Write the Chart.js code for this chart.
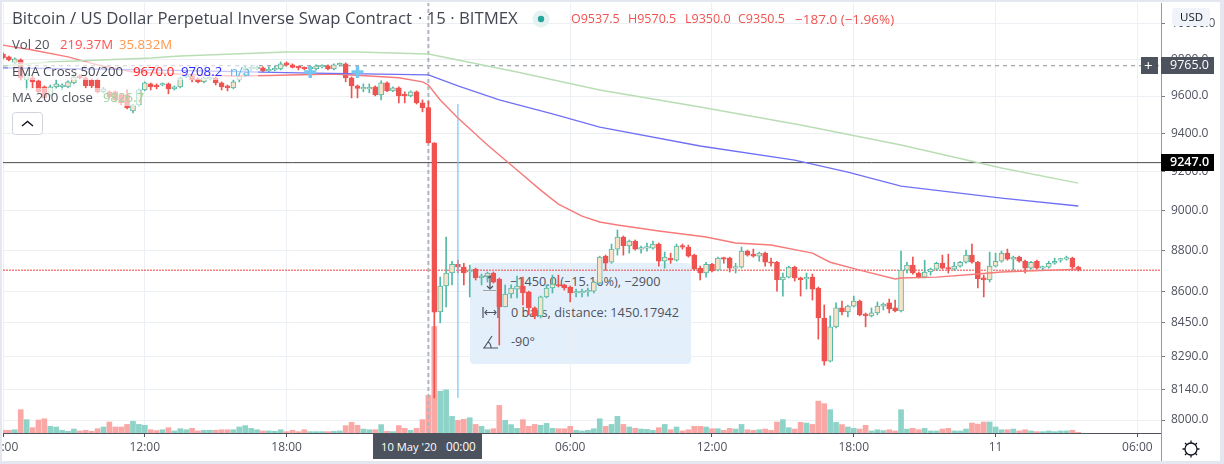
<!DOCTYPE html>
<html><head><meta charset="utf-8">
<script src="https://cdn.jsdelivr.net/npm/chart.js@4/dist/chart.umd.min.js"></script>
<style>
html,body{margin:0;padding:0;background:#fff;width:1224px;height:464px;overflow:hidden}
#wrap{position:relative;width:1224px;height:464px;background:#fff;font-family:"Open Sans",sans-serif;color:#50535e;overflow:hidden;filter:blur(0.35px)}
canvas{position:absolute;left:0;top:0;z-index:1}
.t{position:absolute;white-space:pre;line-height:1}
.low{z-index:0}.top{z-index:3}
.box{position:absolute}
</style></head><body>
<div id="wrap">
<div class="box low" style="left:470px;top:263px;width:221px;height:101px;background:#e3f0fc;border-radius:4px"></div>
<div class="t low" style="left:510px;top:275px;font-size:12.7px;color:#50535e">−1450.0 (−15.16%), −2900</div>
<div class="t low" style="left:511px;top:306px;font-size:12.7px;color:#50535e">0 bars, distance: 1450.17942</div>
<div class="t low" style="left:511px;top:335px;font-size:12.7px;color:#50535e">-90°</div>
<svg class="box low" style="left:480px;top:272px" width="22" height="80" fill="none" stroke="#50535e" stroke-width="1.2">
<path d="M3 19h13M10 4v13M7 7l3-3 3 3M7 14l3 3 3-3M4 4h12"/>
<path d="M3 35v11M18 35v11M5 40.5h11M7 38l-2 2.5 2 2.5M14 38l2 2.5-2 2.5"/>
<path d="M3 76h15M4 76l8-12M8 70c2 1 3 3 3 6"/>
</svg>
<canvas id="c" width="1224" height="464"></canvas>

<div class="box top" style="left:8px;top:62px;width:250px;height:18px;background:rgba(255,255,255,.6)"></div>
<div class="box top" style="left:8px;top:88px;width:132px;height:18px;background:rgba(255,255,255,.6)"></div>

<div class="t top" style="left:12px;top:10px;font-size:16.75px;color:#434651">Bitcoin / US Dollar Perpetual Inverse Swap Contract</div>
<div class="t top" style="left:418px;top:10px;font-size:16.75px;color:#434651">· 15 · BITMEX</div>
<svg class="box top" style="left:531px;top:9px" width="20" height="20"><circle cx="10" cy="10" r="8.5" fill="#e4f3f1"/><circle cx="10" cy="10" r="3.2" fill="#26a69a"/></svg>
<div class="t top" style="left:571px;top:13px;font-size:12.5px;color:#ef5350">O9537.5</div>
<div class="t top" style="left:628px;top:13px;font-size:12.5px;color:#ef5350">H9570.5</div>
<div class="t top" style="left:685px;top:13px;font-size:12.5px;color:#ef5350">L9350.0</div>
<div class="t top" style="left:738px;top:13px;font-size:12.5px;color:#ef5350">C9350.5</div>
<div class="t top" style="left:795px;top:13px;font-size:13.5px;color:#ef5350">−187.0 (−1.96%)</div>

<div class="t top" style="left:12px;top:38px;font-size:13.2px">Vol 20</div>
<div class="t top" style="left:60px;top:38px;font-size:13.2px;color:#ff5252">219.37M</div>
<div class="t top" style="left:119px;top:38px;font-size:13.2px;color:#ff9850">35.832M</div>
<div class="t top" style="left:12px;top:65px;font-size:13.2px;color:#434651">EMA Cross 50/200</div>
<div class="t top" style="left:133px;top:65px;font-size:13.2px;color:#ff1a1a">9670.0</div>
<div class="t top" style="left:181px;top:65px;font-size:13.2px;color:#2a2aff">9708.2</div>
<div class="t top" style="left:230px;top:65px;font-size:13.2px;color:#5db5e8">n/a</div>
<div class="t top" style="left:12px;top:91px;font-size:13.2px">MA 200 close</div>
<div class="t top" style="left:103px;top:91px;font-size:13.2px;color:#9fd49a">9826.7</div>
<svg class="box top" style="left:12px;top:112px" width="31" height="23"><rect x=".5" y=".5" width="30" height="22" rx="3" fill="#fff" stroke="#d1d4dc"/><path d="M10 14l5.5-4.5L21 14" fill="none" stroke="#131722" stroke-width="1.4"/></svg>

<div class="box top" style="left:1141px;top:57px;width:17px;height:17px;background:#4c525e"></div>
<div class="t top" style="left:1144px;top:58px;font-size:15px;color:#fff">+</div>
<div class="box top" style="left:1161px;top:57px;width:53px;height:17px;background:#4c525e"></div>
<div class="t top" style="left:1170px;top:59px;font-size:12.5px;color:#fff">9765.0</div>
<div class="box top" style="left:1161px;top:154px;width:53px;height:17px;background:#000"></div>
<div class="t top" style="left:1170px;top:156px;font-size:12.5px;color:#fff;font-weight:600">9247.0</div>
<div class="box top" style="left:1172px;top:8px;width:38px;height:18px;background:#f0f3fa;border-radius:3px"></div>
<div class="t top" style="left:1180px;top:11px;font-size:11.5px;color:#131722">USD</div>
<div class="box top" style="left:373px;top:434px;width:109px;height:25px;background:#4c525e"></div>
<div class="t top" style="left:381px;top:441px;font-size:11.2px;color:#fff">10 May '20</div>
<div class="t top" style="left:446px;top:441px;font-size:11.7px;color:#fff">00:00</div>
<div class="box top" style="left:1161px;top:434px;width:1px;height:27px;background:#9598a1"></div>
<svg class="box top" style="left:1181px;top:439px" width="20" height="20" fill="none" stroke="#131722" stroke-width="1.3"><circle cx="10" cy="10" r="6"/><path d="M10 1.5v2.5M10 16v2.5M1.5 10h2.5M16 10h2.5M4 4l1.8 1.8M14.2 14.2l1.8 1.8M16 4l-1.8 1.8M5.8 14.2L4 16"/></svg>

<div class="box top" style="left:0;top:0;width:2px;height:464px;background:#e4e7f0"></div>
<div class="box top" style="left:0;top:0;width:1224px;height:2px;background:#e4e7f0"></div>
<div class="box top" style="left:1220px;top:0;width:4px;height:464px;background:#e4e7f0"></div>
<div class="box top" style="left:0;top:461px;width:1224px;height:3px;background:#e4e7f0"></div>
</div>
<script>
const categories = Array.from({length:197},(_,i)=>String(i));
const xTickIdx = [0,24,48,72,96,120,144,168,192];
const xTickLabels = ["06:00","12:00","18:00","00:00","06:00","12:00","18:00","11","06:00"];
const yTickValues = [10000,9800,9600,9400,9200,9000,8800,8600,8450,8290,8140,8000];
const opens = [
9830,9814,9781,9797,9688,9699,9682,9650,9606,9650,
9650,9650,9671,9709,9699,9688,9688,9623,9623,9623,
9606,9606,9520,9552,9633,9666,9660,9660,9666,9639,
9650,9704,9709,9693,9677,9693,9699,9671,9655,9644,
9688,9715,9748,9748,9753,9737,9742,9748,9781,9770,
9759,9753,9748,9748,9759,9764,9748,9770,9775,9699,
9655,9639,9639,9650,9606,9671,9628,9644,9606,9601,
9623,9563,9537.5,9350,8502,8627,8690,8733,8719,8695,
8709,8666,8675,8690,8661,8526,8588,8612,8627,8598,
8521,8483,8574,8617,8632,8632,8622,8593,8593,8598,
8602,8641,8773,8743,8808,8868,8823,8848,8808,8813,
8813,8833,8748,8763,8753,8823,8818,8778,8714,8690,
8733,8704,8763,8763,8714,8719,8798,8783,8773,8788,
8743,8743,8656,8670,8719,8666,8661,8670,8617,8473,
8270,8431,8521,8502,8530,8554,8492,8483,8497,8530,
8545,8521,8507,8704,8729,8690,8670,8695,8709,8738,
8714,8709,8724,8743,8778,8743,8666,8656,8724,8748,
8788,8758,8768,8748,8714,8748,8714,8719,8738,8753,
8758,8763,8719];
const highs = [
9836,9819,9808,9803,9720,9709,9688,9655,9660,9688,
9666,9682,9715,9715,9704,9693,9693,9644,9628,9628,
9612,9633,9557,9639,9677,9671,9666,9671,9671,9655,
9704,9715,9715,9699,9704,9704,9704,9677,9660,9688,
9720,9764,9764,9764,9759,9759,9764,9786,9786,9775,
9764,9759,9764,9770,9770,9770,9775,9781,9781,9704,
9660,9666,9666,9655,9682,9677,9650,9650,9623,9628,
9628,9579,9570.5,9350,8670,8868,8748,8753,8738,8729,
8714,8685,8695,8695,8666,8632,8632,8675,8670,8602,
8526,8578,8632,8680,8680,8636,8627,8612,8612,8617,
8651,8773,8778,8833,8903,8873,8853,8853,8823,8838,
8848,8838,8793,8788,8833,8833,8828,8783,8724,8743,
8738,8768,8768,8768,8738,8818,8803,8808,8793,8793,
8763,8748,8690,8724,8724,8670,8690,8685,8622,8535,
8483,8545,8554,8535,8578,8559,8497,8521,8550,8545,
8564,8559,8798,8743,8768,8695,8753,8714,8743,8778,
8783,8743,8748,8803,8833,8748,8680,8793,8788,8798,
8808,8773,8773,8753,8748,8753,8724,8748,8763,8763,
8773,8768,8724];
const lows = [
9803,9791,9775,9688,9633,9644,9612,9579,9601,9639,
9633,9644,9666,9693,9644,9644,9617,9617,9590,9568,
9552,9531,9509,9547,9628,9633,9639,9655,9612,9633,
9644,9699,9677,9671,9671,9688,9660,9633,9628,9639,
9677,9704,9737,9742,9731,9731,9737,9742,9764,9753,
9742,9742,9731,9742,9753,9742,9742,9764,9677,9590,
9590,9623,9617,9601,9579,9623,9623,9563,9563,9595,
9557,9515,9350,8100,8450,8526,8632,8690,8632,8574,
8656,8632,8646,8641,8345,8526,8569,8569,8535,8488,
8469,8473,8569,8593,8622,8607,8550,8574,8574,8578,
8593,8636,8704,8738,8778,8778,8788,8803,8788,8798,
8808,8724,8714,8738,8748,8808,8768,8704,8656,8670,
8695,8700,8738,8695,8690,8714,8773,8768,8748,8724,
8724,8602,8578,8666,8651,8578,8612,8559,8373,8251,
8266,8426,8488,8478,8526,8483,8431,8478,8488,8511,
8497,8502,8502,8690,8685,8666,8666,8680,8704,8709,
8690,8704,8719,8738,8738,8617,8574,8646,8719,8743,
8753,8704,8743,8690,8709,8709,8704,8714,8733,8743,
8753,8704,8700];
const closes = [
9808,9797,9803,9699,9715,9677,9623,9590,9650,9666,
9660,9677,9704,9699,9655,9655,9623,9639,9595,9579,
9563,9536,9552,9633,9671,9650,9650,9666,9639,9650,
9699,9709,9688,9677,9699,9699,9671,9650,9644,9677,
9709,9753,9753,9753,9737,9742,9748,9775,9770,9756,
9753,9748,9753,9764,9764,9748,9770,9775,9699,9655,
9641,9644,9644,9606,9671,9628,9644,9601,9601,9623,
9563,9536,9350.5,8501,8627,8690,8733,8719,8690,8704,
8666,8675,8690,8646,8526,8588,8617,8627,8593,8521,
8483,8574,8617,8636,8627,8617,8593,8598,8602,8602,
8646,8768,8738,8808,8868,8823,8848,8808,8813,8818,
8833,8748,8768,8753,8823,8818,8773,8709,8690,8733,
8700,8763,8758,8714,8719,8798,8778,8773,8788,8743,
8738,8656,8670,8719,8666,8656,8670,8612,8473,8270,
8431,8521,8502,8530,8554,8488,8483,8497,8530,8540,
8516,8507,8704,8729,8690,8670,8695,8709,8738,8714,
8709,8724,8743,8778,8743,8661,8656,8724,8748,8788,
8758,8768,8748,8714,8743,8714,8719,8738,8748,8758,
8763,8719,8704];
const volumes = [
16,16,19,136,78,31,76,83,39,35,16,10,23,12,16,10,25,35,64,35,
35,50,68,50,45,19,14,19,31,12,25,19,27,12,16,16,16,19,19,19,
35,43,27,19,12,12,10,19,8,16,8,19,8,8,8,8,10,12,43,62,
45,23,19,19,49,10,8,43,27,16,27,78,219.37,621,244,252,97,74,80,89,
50,39,19,25,161,74,49,27,78,39,50,45,56,27,25,25,39,16,12,16,
25,83,39,50,97,50,35,27,23,21,16,31,50,19,35,12,19,39,39,35,
25,25,16,27,23,50,19,16,19,23,16,64,78,31,23,62,58,50,186,171,
136,62,49,35,27,23,45,12,19,14,19,12,136,23,27,19,27,12,12,23,
27,12,12,23,58,52,64,64,35,19,19,23,12,19,12,8,8,12,8,12,12,16,4];
const ema50Idx = [0,5,11,16,22,33,39,45,56,62,67,71,72,74,77,82,85,87,91,94,98,101,104,111,119,124,130,137,140,145,151,152,158,165,169,182];
const ema50Val = [9879,9852,9814,9770,9731,9715,9709,9712,9720,9709,9699,9677,9660,9579,9482,9339,9261,9209,9105,9034,8973,8943,8928,8898,8868,8838,8828,8788,8743,8704,8661,8666,8670,8685,8695,8709];
const ema200Idx = [0,25,50,72,77,84,93,101,118,134,143,152,169,182];
const ema200Val = [9753,9742,9726,9715,9655,9579,9504,9434,9334,9260,9198,9126,9064,9024];
const ma200Idx = [0,8,25,30,48,60,72,77,87,101,118,135,152,169,182];
const ma200Val = [9764,9786,9808,9819,9841,9841,9830,9797,9731,9633,9541,9445,9339,9219,9141];
const crossIdx = [52,60];
const crossVal = [9731,9731];
const lastPrice = 8704, markedPrice = 9765, horizontalLine = 9247;
const crosshairIdx = 72, measureIdx = 77, measureFrom = 8100, measureTo = 9557;
const yMin = 7942, yMax = 10116, volMax = 2508;

const RED='#ef5350',TEAL='#53b9a6',CREAM='#f6e3c8',VRED='#f9a8a6',VTEAL='#8dd3c7';
const up=i=>closes[i]>=opens[i];
const pts=(ix,vs)=>ix.map((x,k)=>({x:String(x),y:vs[k]}));
const hline=v=>pts([0,196],[v,v]);
const lineBase={type:'line',pointRadius:0,tension:0,fill:false,yAxisID:'y',spanGaps:true};
new Chart(document.getElementById('c'),{
 type:'bar',
 data:{labels:categories,datasets:[
  {type:'bar',yAxisID:'v',order:9,data:volumes,barThickness:5,grouped:false,
   backgroundColor:volumes.map((_,i)=>up(i)?VTEAL:VRED)},
  {...lineBase,order:8,data:hline(markedPrice),borderColor:'#8a8e98',borderWidth:1,borderDash:[4,4]},
  {...lineBase,order:8,data:hline(horizontalLine),borderColor:'#4a4a4a',borderWidth:1},
  {...lineBase,order:8,data:hline(lastPrice),borderColor:'#f0403d',borderWidth:1,borderDash:[2,1]},
  {...lineBase,order:7,data:pts([crosshairIdx,crosshairIdx],[yMin,yMax]),borderColor:'#b2b5be',borderWidth:2,borderDash:[4,3]},
  {type:'bar',yAxisID:'y',order:4,data:highs.map((h,i)=>[lows[i],h]),barThickness:1,grouped:false,
   backgroundColor:highs.map((_,i)=>up(i)?TEAL:RED)},
  {type:'bar',yAxisID:'y',order:3,data:opens.map((o,i)=>[o,closes[i]]),barThickness:5,grouped:false,minBarLength:1.5,
   backgroundColor:opens.map((_,i)=>up(i)?CREAM:RED),
   borderColor:opens.map((_,i)=>up(i)?TEAL:RED),borderWidth:1,borderSkipped:false},
  {...lineBase,order:2,data:pts([measureIdx,measureIdx],[measureFrom,measureTo]),borderColor:'#7cc4f5',borderWidth:1.2},
  {...lineBase,order:1,data:pts(ma200Idx,ma200Val),borderColor:'#b9deb4',borderWidth:1.5},
  {...lineBase,order:1,data:pts(ema200Idx,ema200Val),borderColor:'#7070f5',borderWidth:1.3},
  {...lineBase,order:1,data:pts(ema50Idx,ema50Val),borderColor:'#f77a7a',borderWidth:1.4},
  {...lineBase,order:0,data:pts(crossIdx,crossVal),showLine:false,pointRadius:6,pointStyle:'cross',pointBorderColor:'#74c7ee',pointBorderWidth:3.5}
 ]},
 options:{responsive:false,animation:false,events:[],
  layout:{autoPadding:false,padding:{left:3,top:3,right:4,bottom:8}},
  plugins:{legend:{display:false},tooltip:{enabled:false}},
  scales:{
   x:{type:'category',offset:false,
    afterFit:s=>{s.paddingLeft=0;s.paddingRight=0;s.height=23;},
    afterBuildTicks:s=>{s.ticks=xTickIdx.map(value=>({value}));},
    grid:{offset:false,color:'#ecf0f5',tickColor:'#50535e',tickLength:4},
    border:{color:'#50535e',width:1},
    ticks:{autoSkip:false,maxRotation:0,padding:3,color:'#50535e',font:{family:'"Open Sans"',size:12},
     callback:v=>xTickLabels[xTickIdx.indexOf(v)]}},
   y:{type:'logarithmic',position:'right',min:yMin,max:yMax,bounds:'data',
    afterFit:s=>{s.width=59;s.paddingTop=0;s.paddingBottom=0;},
    afterBuildTicks:s=>{s.ticks=yTickValues.map(value=>({value}));},
    grid:{color:'#ecf0f5',tickColor:'#787b86',tickLength:4},
    border:{color:'#9598a1',width:1},
    ticks:{autoSkip:false,padding:6,color:'#50535e',font:{family:'"Open Sans"',size:12},
     callback:v=>Number(v).toFixed(1)}},
   v:{type:'linear',display:false,min:0,max:volMax,grid:{display:false}}
  }}
});
</script>
</body></html>
